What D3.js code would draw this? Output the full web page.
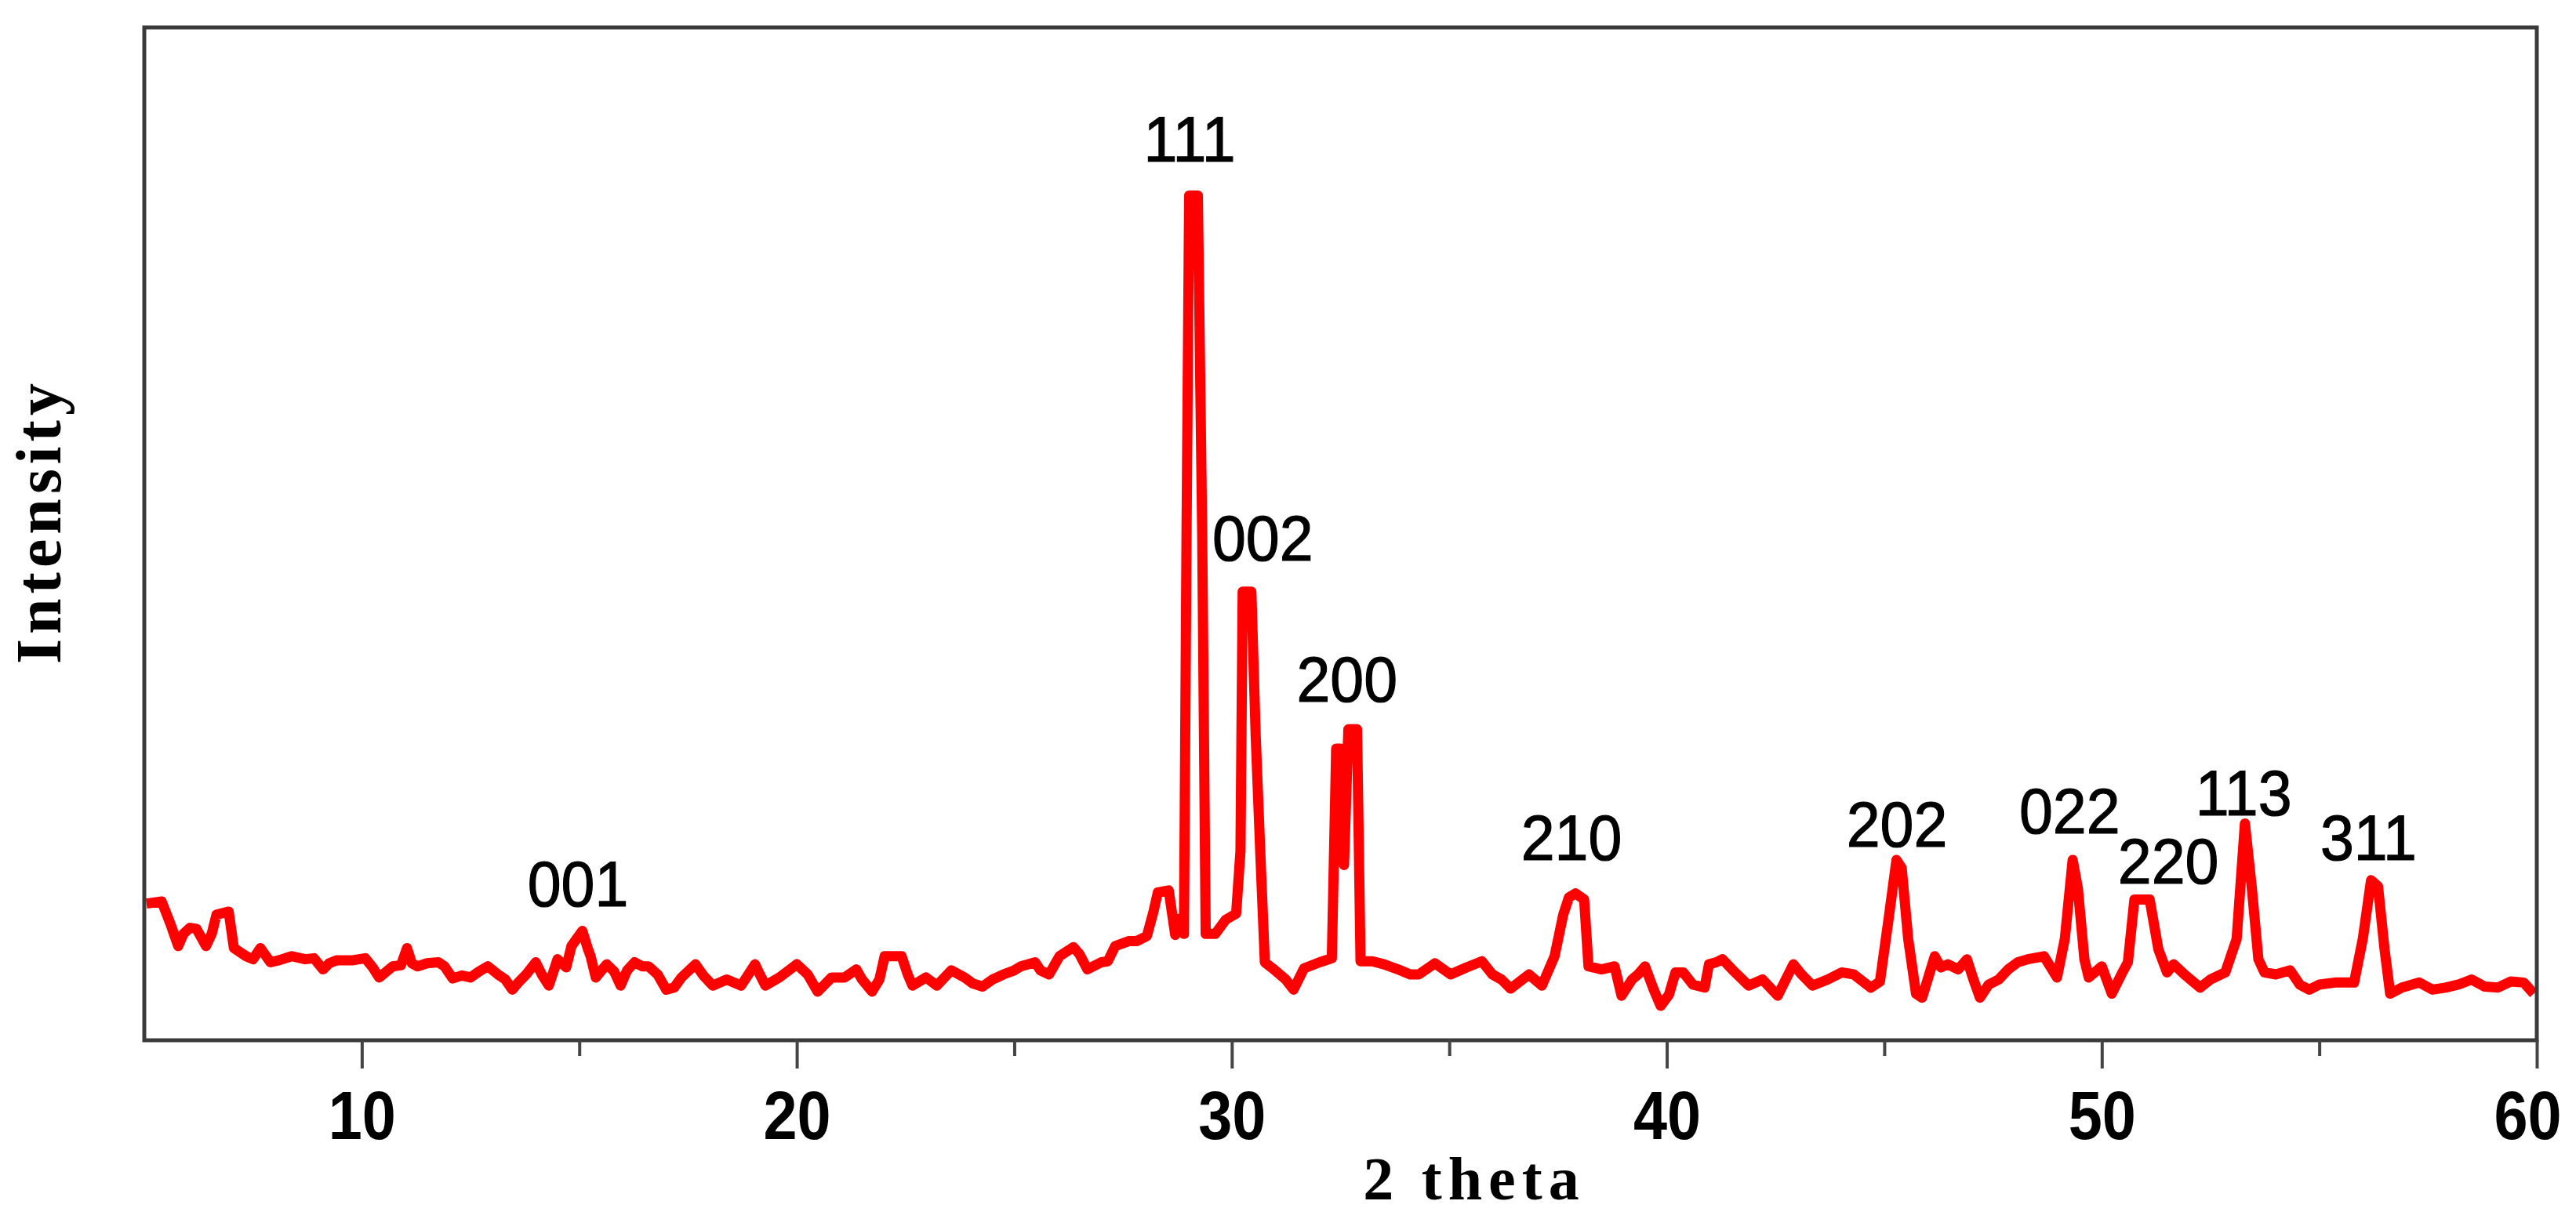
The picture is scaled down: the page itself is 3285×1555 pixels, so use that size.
<!DOCTYPE html>
<html>
<head>
<meta charset="utf-8">
<script src="https://cdn.jsdelivr.net/npm/d3@7"></script>
<style>
  body { margin: 0; background: #fff; }
  svg { display: block; }
</style>
</head>
<body>
<svg id="xrd_svg"></svg>
<script>
// XRD pattern, 2 theta (deg) vs intensity (a.u., 0-100 of the frame height)
var twoTheta = [5.05, 5.4, 5.6, 5.78, 5.9, 6.05, 6.2, 6.42, 6.55, 6.66, 6.94, 7.06, 7.34, 7.5, 7.67, 7.9, 8.1, 8.39, 8.7, 8.9,
  9.11, 9.25, 9.43, 9.8, 10.08, 10.25, 10.4, 10.71, 10.9, 11.04, 11.15, 11.28, 11.5, 11.76, 11.9, 12.09, 12.3, 12.5, 12.7, 12.9,
  13.13, 13.3, 13.46, 13.6, 13.78, 14.0, 14.15, 14.3, 14.5, 14.7, 14.82, 15.07, 15.2, 15.26, 15.38, 15.63, 15.8, 15.95, 16.1, 16.27,
  16.45, 16.59, 16.8, 17.0, 17.18, 17.35, 17.67, 17.85, 18.07, 18.39, 18.72, 19.04, 19.15, 19.28, 19.6, 20.0, 20.25, 20.48, 20.8, 21.1,
  21.37, 21.5, 21.73, 21.9, 22.02, 22.41, 22.55, 22.66, 22.97, 23.22, 23.55, 23.86, 24.05, 24.27, 24.5, 24.75, 25.0, 25.15, 25.48, 25.6,
  25.8, 26.04, 26.36, 26.5, 26.68, 27.0, 27.15, 27.32, 27.64, 27.82, 28.05, 28.2, 28.3, 28.55, 28.7, 28.8, 28.9, 28.96, 29.02, 29.22,
  29.32, 29.4, 29.62, 29.86, 30.1, 30.2, 30.25, 30.45, 30.55, 30.66, 30.76, 30.94, 31.24, 31.42, 31.66, 32.02, 32.3, 32.4, 32.5, 32.58,
  32.68, 32.88, 32.96, 33.23, 33.5, 33.82, 34.1, 34.3, 34.67, 35.03, 35.4, 35.75, 35.99, 36.2, 36.41, 36.83, 37.13, 37.42, 37.62, 37.75,
  37.9, 38.1, 38.2, 38.5, 38.8, 38.96, 39.2, 39.34, 39.5, 39.7, 39.86, 40.05, 40.2, 40.38, 40.6, 40.87, 40.97, 41.14, 41.28, 41.5,
  41.88, 42.2, 42.55, 42.91, 43.1, 43.35, 43.7, 44.02, 44.3, 44.69, 44.9, 45.1, 45.28, 45.4, 45.55, 45.73, 45.87, 46.16, 46.3, 46.46,
  46.7, 46.9, 47.05, 47.2, 47.4, 47.63, 47.85, 48.07, 48.3, 48.67, 48.97, 49.15, 49.33, 49.45, 49.6, 49.7, 50.0, 50.23, 50.45, 50.6,
  50.75, 51.1, 51.3, 51.5, 51.65, 51.9, 52.26, 52.5, 52.84, 53.1, 53.29, 53.45, 53.6, 53.74, 54.0, 54.33, 54.55, 54.77, 55.0, 55.36,
  55.8, 56.0, 56.19, 56.35, 56.5, 56.63, 56.9, 57.3, 57.6, 57.9, 58.2, 58.5, 58.8, 59.1, 59.4, 59.7, 59.93];

var intensity = [13.5, 13.7, 11.5, 9.3, 10.5, 11.1, 11.0, 9.3, 10.5, 12.4, 12.7, 9.1, 8.3, 8.0, 9.1, 7.7, 7.9, 8.3, 8.0, 8.1,
  7.0, 7.6, 7.9, 7.9, 8.1, 7.2, 6.2, 7.3, 7.4, 9.1, 7.6, 7.3, 7.6, 7.7, 7.3, 6.1, 6.4, 6.2, 6.8, 7.3,
  6.5, 6.0, 5.0, 5.7, 6.5, 7.7, 6.4, 5.4, 8.0, 7.2, 9.3, 10.8, 9.0, 8.3, 6.2, 7.5, 6.8, 5.4, 6.9, 7.7,
  7.3, 7.3, 6.5, 5.0, 5.2, 6.2, 7.5, 6.4, 5.4, 6.0, 5.4, 7.5, 6.5, 5.4, 6.2, 7.5, 6.5, 4.8, 6.2, 6.2,
  7.0, 6.0, 4.8, 6.0, 8.3, 8.3, 6.5, 5.4, 6.2, 5.4, 6.9, 6.2, 5.6, 5.3, 6.0, 6.5, 6.9, 7.3, 7.7, 6.9,
  6.5, 8.3, 9.2, 8.5, 7.0, 7.7, 7.8, 9.3, 9.8, 9.8, 10.3, 12.7, 14.6, 14.8, 10.4, 12.0, 10.5, 50.0, 83.4, 83.4,
  50.0, 10.5, 10.5, 11.9, 12.5, 18.7, 44.3, 44.3, 30.0, 18.0, 7.7, 7.1, 6.0, 5.0, 7.1, 7.7, 8.1, 28.8, 28.8, 17.3,
  30.7, 30.7, 7.8, 7.8, 7.5, 7.0, 6.5, 6.5, 7.6, 6.5, 7.2, 7.8, 6.5, 6.0, 5.1, 6.5, 5.4, 8.3, 12.4, 14.1,
  14.5, 13.9, 7.3, 7.0, 7.3, 4.4, 6.0, 6.5, 7.3, 5.0, 3.4, 4.5, 6.7, 6.7, 5.5, 5.2, 7.5, 7.7, 8.0, 7.0,
  5.4, 6.0, 4.4, 7.5, 6.5, 5.4, 6.0, 6.7, 6.5, 5.2, 5.8, 12.0, 17.8, 17.0, 10.0, 4.6, 4.2, 8.3, 7.2, 7.5,
  7.0, 8.0, 6.0, 4.2, 5.5, 6.0, 7.0, 7.7, 8.0, 8.3, 6.2, 10.0, 17.8, 15.0, 8.0, 6.2, 7.3, 4.6, 6.5, 7.7,
  13.9, 13.9, 9.0, 6.7, 7.5, 6.5, 5.2, 6.0, 6.7, 10.0, 21.4, 15.0, 8.0, 6.7, 6.5, 6.9, 5.5, 5.0, 5.5, 5.7,
  5.7, 10.0, 15.8, 15.2, 9.0, 4.6, 5.2, 5.7, 5.0, 5.2, 5.5, 6.0, 5.3, 5.2, 5.8, 5.7, 4.6];

// Miller indices of the reflections and where their labels sit (2 theta, intensity of baseline)
var peakLabels = ["001", "111", "002", "200", "210", "202", "022", "220", "113", "311"];
var labelTheta = [14.97, 29.03, 30.71, 32.65, 37.81, 45.29, 49.26, 51.53, 53.26, 56.13];
var labelIntensity = [13.2, 86.8, 47.4, 33.4, 17.8, 19.1, 20.4, 15.5, 22.2, 17.8];

var majorTicks = [10, 20, 30, 40, 50, 60];
var minorTicks = [15, 25, 35, 45, 55];

var W = 3285, H = 1555;
var plot = {left: 184, right: 3235, top: 35, bottom: 1327};

var svg = d3.select("#xrd_svg")
    .attr("width", W)
    .attr("height", H)
    .attr("viewBox", [0, 0, W, H]);

var xScale = d3.scaleLinear().domain([5, 60]).range([plot.left, plot.right]);
var yScale = d3.scaleLinear().domain([0, 100]).range([plot.bottom, plot.top]);

var data = twoTheta.map(function(t, i) { return {t: t, v: intensity[i]}; });

// the pattern itself
var line = d3.line()
    .x(function(d) { return xScale(d.t); })
    .y(function(d) { return yScale(d.v); });

svg.append("path")
    .datum(data)
    .attr("d", line)
    .attr("fill", "none")
    .attr("stroke", "#ff0000")
    .attr("stroke-width", 13)
    .attr("stroke-linejoin", "round");

// frame
svg.append("rect")
    .attr("x", plot.left)
    .attr("y", plot.top)
    .attr("width", plot.right - plot.left)
    .attr("height", plot.bottom - plot.top)
    .attr("fill", "none")
    .attr("stroke", "#3a3a3a")
    .attr("stroke-width", 5);

var sansFamily = "'Liberation Sans', Arial, sans-serif";

// squeeze a text a little horizontally (the original uses a narrow face)
function narrow(sel, k) {
  sel.each(function() {
    var w = this.getComputedTextLength();
    d3.select(this).attr("textLength", w * k).attr("lengthAdjust", "spacingAndGlyphs");
  });
}

// x axis, major ticks with labels
var xAxis = svg.append("g")
    .attr("transform", "translate(0," + plot.bottom + ")")
    .call(d3.axisBottom(xScale).tickValues(majorTicks).tickSize(36).tickFormat(d3.format("d")));
xAxis.select(".domain").remove();
xAxis.selectAll(".tick line").attr("stroke", "#444").attr("stroke-width", 4);
xAxis.selectAll(".tick text")
    .attr("y", 126)
    .attr("dy", 0)
    .attr("dx", function(d) { return d === 60 ? -12 : 0; })
    .attr("fill", "#000")
    .style("font-family", sansFamily)
    .style("font-weight", "bold")
    .style("font-size", "88px")
    .call(narrow, 0.88);

// minor ticks
var xMinor = svg.append("g")
    .attr("transform", "translate(0," + plot.bottom + ")")
    .call(d3.axisBottom(xScale).tickValues(minorTicks).tickSize(20).tickFormat(""));
xMinor.select(".domain").remove();
xMinor.selectAll(".tick line").attr("stroke", "#444").attr("stroke-width", 4);

// peak labels
svg.selectAll(".peak-label")
    .data(peakLabels)
  .enter()
    .append("text")
    .attr("class", "peak-label")
    .attr("x", function(d, i) { return xScale(labelTheta[i]); })
    .attr("y", function(d, i) { return yScale(labelIntensity[i]); })
    .attr("text-anchor", "middle")
    .style("font-family", sansFamily)
    .style("font-size", "82px")
    .attr("fill", "#000")
    .attr("stroke", "#000")
    .attr("stroke-width", 1.2)
    .text(function(d) { return d; })
    .call(narrow, 0.94);

// axis titles
svg.append("text")
    .attr("x", 1880)
    .attr("y", 1530)
    .attr("text-anchor", "middle")
    .style("font-family", "'Liberation Serif', 'Times New Roman', serif")
    .style("font-weight", "bold")
    .style("font-size", "78px")
    .style("letter-spacing", "8px")
    .text("2 theta");

svg.append("text")
    .attr("transform", "translate(77,665) rotate(-90)")
    .attr("text-anchor", "middle")
    .style("font-family", "'Liberation Serif', 'Times New Roman', serif")
    .style("font-weight", "bold")
    .style("font-size", "82px")
    .style("letter-spacing", "6px")
    .text("Intensity");
</script>
</body>
</html>
